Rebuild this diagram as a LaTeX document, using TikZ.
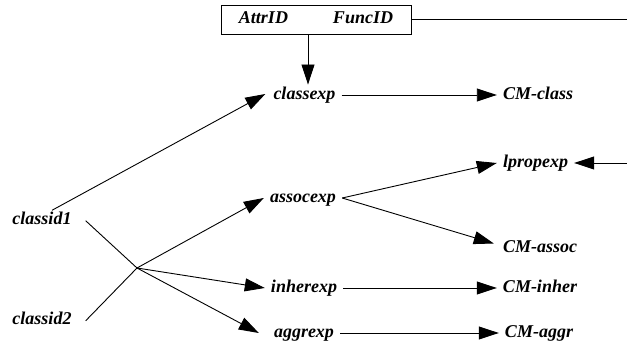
\documentclass[tikz,border=0pt]{standalone}
\usepackage{fontspec}
\setmainfont{Liberation Serif}
\usetikzlibrary{arrows.meta}
\begin{document}
\begin{tikzpicture}[x=1pt,y=-1pt,
  lbl/.style={font=\fontsize{18}{20}\selectfont\bfseries\itshape,
    text height=12.5pt,text depth=4pt,inner xsep=6pt,inner ysep=2pt},
  src/.style={lbl,inner xsep=14pt},
  conn/.style={line width=0.9pt},
  arr/.style={conn,-{Triangle[length=20pt,width=13pt]}}]
\useasboundingbox (0,0) rectangle (627,344);

% identifier box
\node[lbl,draw,line width=0.9pt,minimum width=190pt,minimum height=29pt,inner ysep=0pt]
  (ids) at (316,19.5) {AttrID\hspace{45pt}FuncID};
\coordinate (idsout) at (627,19.5);

% expressions
\node[lbl] (classexp) at (304.5,95) {classexp};
\node[lbl] (assocexp) at (303,198) {assocexp};
\node[lbl] (inherexp) at (304,288) {inherexp};
\node[lbl] (aggrexp) at (304,333) {aggrexp};

% sources
\node[src] (classid1) at (42,220.75) {classid1};
\node[src] (classid2) at (42,320.75) {classid2};
\coordinate (j) at (137,268);

% results
\node[lbl] (cmclass) at (538,95) {CM-class};
\node[lbl] (lpropexp) at (535.5,163) {lpropexp};
\node[lbl] (cmassoc) at (540,248.5) {CM-assoc};
\node[lbl] (cminher) at (540,288) {CM-inher};
\node[lbl] (cmaggr) at (539,333) {CM-aggr};
\coordinate (lpropin) at (627,163);

% connectors
\draw[conn] (ids.east) -- (idsout);
\draw[arr] ([xshift=3.5pt]classexp.north |- ids.south) -- ([xshift=3.5pt]classexp.north);
\draw[arr] (classexp.east) -- (cmclass.west);
\draw[arr] ([xshift=10pt]classid1.north) -- ([xshift=-2pt,yshift=1pt]classexp.west);
\draw[conn] (classid1.east) -- (j);
\draw[conn] (classid2.east) -- (j);
\draw[arr] (j) -- (assocexp.west);
\draw[arr] (j) -- (inherexp.west);
\draw[arr] (j) -- ([xshift=-9pt]aggrexp.west);
\draw[arr] (assocexp.east) -- (lpropexp.west);
\draw[arr] (assocexp.east) -- ([xshift=-3pt,yshift=5pt]cmassoc.west);
\draw[arr] (lpropin) -- (lpropexp.east);
\draw[arr] (inherexp.east) -- (cminher.west);
\draw[arr] (aggrexp.east) -- (cmaggr.west);
\end{tikzpicture}
\end{document}
